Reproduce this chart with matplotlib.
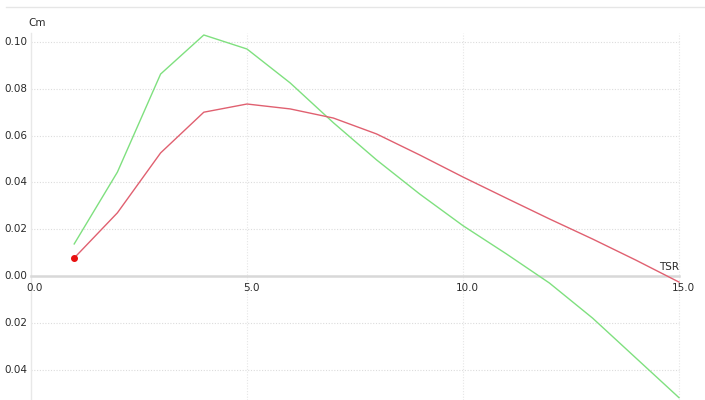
import matplotlib
matplotlib.use("Agg")
import matplotlib.pyplot as plt
import matplotlib.transforms as mtransforms

tsr = [1, 2, 3, 4, 5, 6, 7, 8, 9, 10, 11, 12, 13, 14, 15]
cm_green = [0.0137, 0.0444, 0.0863, 0.1030, 0.0970, 0.0825, 0.0655, 0.0496,
            0.0350, 0.0215, 0.0095, -0.0030, -0.0180, -0.0350, -0.0520]
cm_red = [0.0077, 0.0270, 0.0526, 0.0700, 0.0735, 0.0714, 0.0675, 0.0607,
          0.0517, 0.0423, 0.0333, 0.0244, 0.0158, 0.0068, -0.0026]
x_ticks = [0.0, 5.0, 10.0, 15.0]
x_tick_labels = ["0.0", "5.0", "10.0", "15.0"]
y_ticks = [-0.04, -0.02, 0.0, 0.02, 0.04, 0.06, 0.08, 0.10]

W, H = 705, 400
fig = plt.figure(figsize=(W / 100, H / 100), dpi=100)
ax = fig.add_axes([0, 0, 1, 1])
ax.set_axis_off()

px_per_x = 43.2
px_per_y = 2340.0
x0_px, y0_px = 31.0, 276.0
ax.set_xlim(-x0_px / px_per_x, (W - x0_px) / px_per_x)
ax.set_ylim(-(H - y0_px) / px_per_y, y0_px / px_per_y)

y_top = (y0_px - 33) / px_per_y
y_bot = -(H - y0_px) / px_per_y

# grid
for yv in y_ticks:
    if yv == 0:
        continue
    ax.plot([0, 15], [yv, yv], color="#dcdcdc", lw=0.8, ls=(0, (1, 1.5)), zorder=1)
for xv in [5.0, 10.0, 15.0]:
    ax.plot([xv, xv], [y_bot, y_top], color="#e6e6e6", lw=0.8, ls=(0, (1, 1.5)), zorder=1)
# y axis
ax.plot([0, 0], [y_bot, y_top], color="#e8e8e8", lw=1.0, zorder=1)
# x axis
ax.plot([0, 15], [0, 0], color="#d8d8d8", lw=1.8, zorder=1)

# top frame line
fig.add_artist(plt.Line2D([0.008, 1], [1 - 7 / H, 1 - 7 / H], color="#e6e6e6", lw=1.0,
                          transform=fig.transFigure))

# data
ax.plot(tsr, cm_green, color="#7fe07f", lw=1.0, zorder=3, clip_on=False)
ax.plot(tsr, cm_red, color="#e06070", lw=1.0, zorder=4, clip_on=False)
ax.plot(tsr[0], cm_red[0], "o", color="#e81010", ms=4, zorder=5)

font = dict(family="DejaVu Sans", size=7.5, color="#2a2a2a")

# y tick labels
for yv in y_ticks:
    ax.text(-4 / px_per_x, yv, f"{abs(yv):.2f}", ha="right", va="center", **font)

# x tick labels
off = mtransforms.offset_copy(ax.transData, fig=fig, x=4, y=-7, units="dots")
for xv, lab in zip(x_ticks, x_tick_labels):
    ax.text(xv, 0, lab, ha="center", va="top", transform=off, **font)

# axis titles
ax.text(-3 / px_per_x, (y0_px - 23) / px_per_y, "Cm", ha="left", va="center", **font)
ax.text(15 - 10 / px_per_x, (y0_px - 267) / px_per_y, "TSR", ha="center", va="center", **font)

fig.savefig("out.png", dpi=100)
